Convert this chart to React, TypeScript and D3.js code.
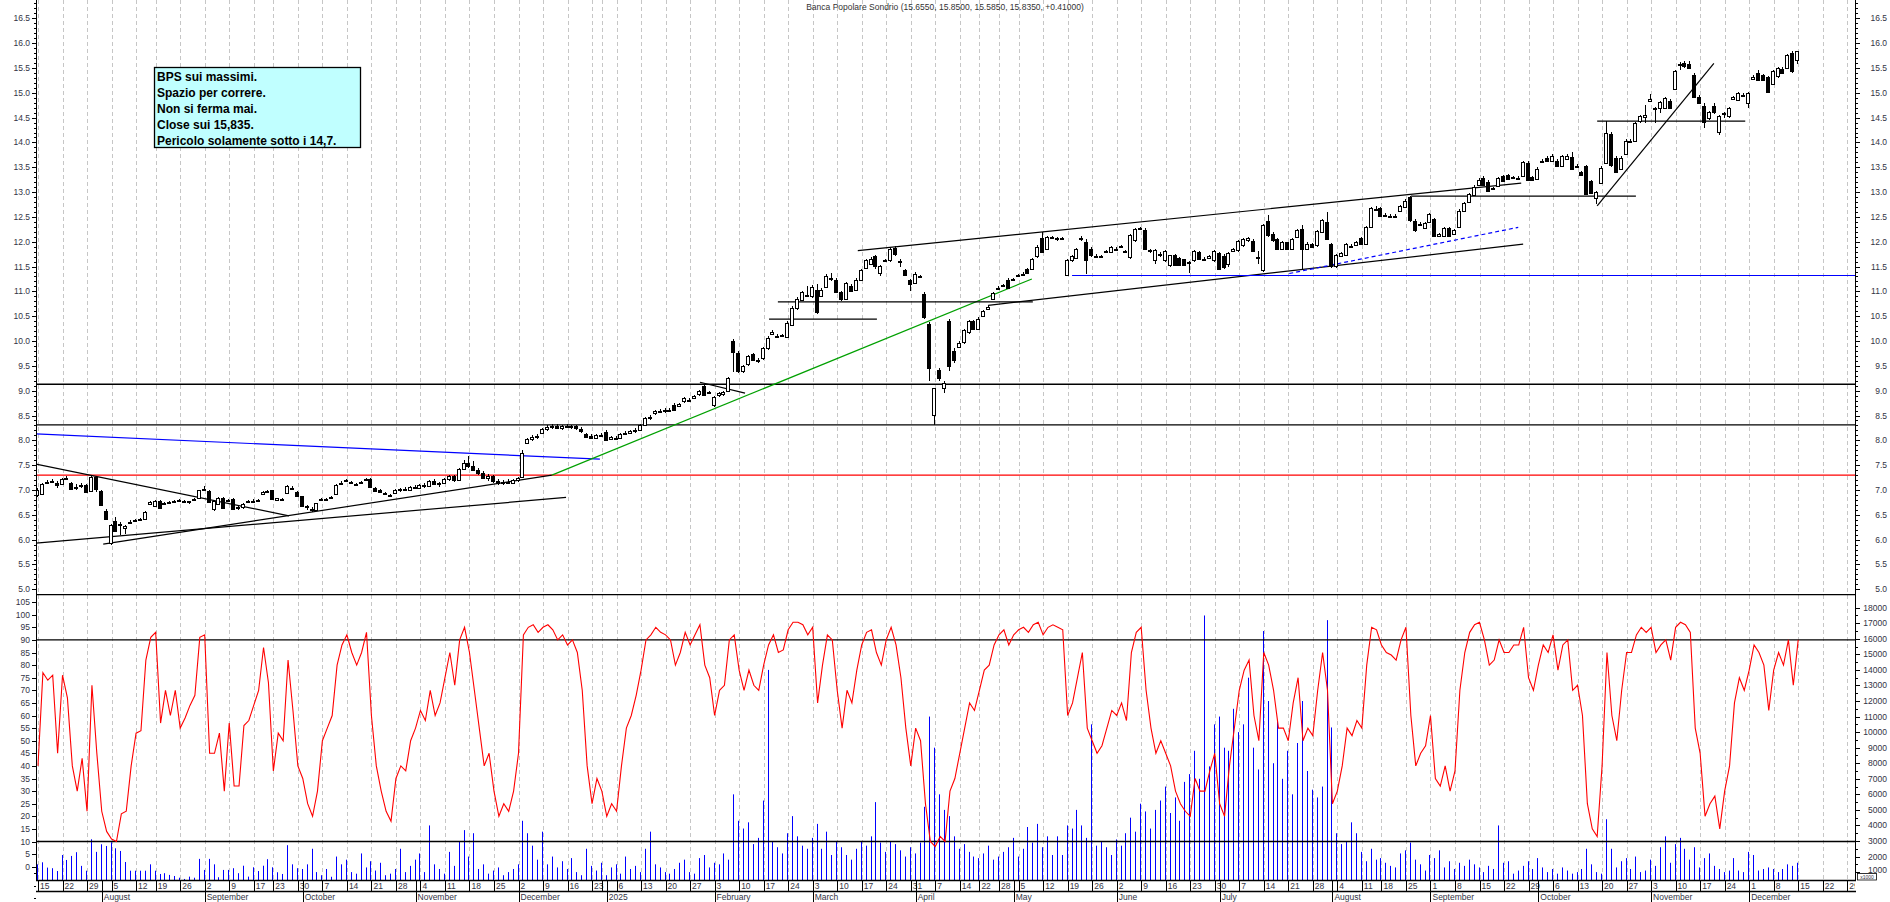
import React from "react";
import * as d3 from "d3";

const TITLE = "Banca Popolare Sondrio (15.6550, 15.8500, 15.5850, 15.8350, +0.41000)";
const NOTE_LINES = ["BPS sui massimi.", "Spazio per correre.", "Non si ferma mai.", "Close sui 15,835.", "Pericolo solamente sotto i 14,7."];
const START_DATE = "2024-07-15";
const AXIS_END_DATE = "2025-12-31";
const CLOSED_DAYS = ["2024-08-15", "2024-09-16", "2024-12-24", "2024-12-25", "2024-12-26", "2024-12-31", "2025-01-01", "2025-04-18", "2025-04-21", "2025-05-01", "2025-08-15"];
const MONTHS = ["January", "February", "March", "April", "May", "June", "July", "August", "September", "October", "November", "December"];

// daily candles: [open, high, low, close]
const candles: number[][] = [
[6.90,7.05,6.85,7.00],[6.92,7.15,6.90,7.12],[7.15,7.20,7.12,7.17],[7.17,7.22,7.14,7.18],[7.14,7.18,7.05,7.10],
[7.12,7.25,7.10,7.22],[7.24,7.28,7.20,7.25],[7.14,7.16,7.00,7.02],[7.06,7.12,7.00,7.06],[7.08,7.14,7.05,7.10],
[7.10,7.12,6.95,6.96],[6.98,7.30,6.96,7.27],[7.27,7.29,6.95,7.03],[6.98,7.00,6.68,6.70],[6.58,6.62,6.40,6.41],
[5.93,6.32,5.90,6.30],[6.37,6.45,6.15,6.18],[6.30,6.35,6.10,6.32],[6.24,6.30,6.12,6.28],[6.34,6.40,6.32,6.36],
[6.38,6.42,6.35,6.39],[6.40,6.44,6.38,6.42],[6.42,6.57,6.40,6.55],[6.72,6.78,6.70,6.75],[6.68,6.80,6.66,6.78],
[6.78,6.80,6.62,6.63],[6.72,6.76,6.70,6.74],[6.74,6.78,6.72,6.76],[6.77,6.80,6.75,6.78],[6.79,6.82,6.77,6.80],
[6.78,6.80,6.76,6.78],[6.76,6.78,6.72,6.77],[6.80,6.84,6.78,6.82],[6.83,7.00,6.82,6.99],[7.02,7.08,6.98,7.03],
[6.97,6.99,6.74,6.75],[6.62,6.80,6.58,6.78],[6.72,6.85,6.70,6.83],[6.83,6.85,6.62,6.64],[6.78,6.82,6.76,6.80],
[6.81,6.83,6.60,6.62],[6.64,6.68,6.60,6.65],[6.66,6.74,6.62,6.72],[6.76,6.80,6.74,6.78],[6.77,6.82,6.75,6.78],
[6.78,6.82,6.77,6.80],[6.92,6.97,6.90,6.95],[6.96,7.00,6.94,6.97],[6.99,7.00,6.80,6.81],[6.80,6.84,6.78,6.83],
[6.81,6.84,6.80,6.82],[6.93,7.10,6.92,7.08],[7.05,7.08,7.00,7.04],[6.95,6.98,6.86,6.87],[6.87,6.88,6.66,6.67],
[6.68,6.70,6.60,6.67],[6.62,6.65,6.56,6.61],[6.59,6.74,6.57,6.73],[6.80,6.84,6.78,6.82],[6.81,6.84,6.79,6.82],
[6.83,6.87,6.82,6.85],[6.91,7.12,6.90,7.10],[7.13,7.18,7.12,7.15],[7.18,7.22,7.16,7.20],[7.15,7.18,7.13,7.16],
[7.11,7.15,7.08,7.13],[7.15,7.19,7.13,7.16],[7.20,7.25,7.18,7.22],[7.22,7.24,7.06,7.07],[7.05,7.06,6.96,6.97],
[7.00,7.01,6.94,6.95],[6.93,6.95,6.90,6.92],[6.90,6.92,6.88,6.89],[6.93,7.02,6.92,7.00],[7.00,7.05,6.95,7.02],
[7.02,7.06,6.98,7.00],[7.00,7.08,6.98,7.06],[7.06,7.10,7.02,7.04],[7.04,7.12,7.02,7.10],[7.10,7.15,7.05,7.08],
[7.08,7.20,7.06,7.18],[7.18,7.22,7.10,7.12],[7.12,7.16,7.06,7.14],[7.14,7.24,7.12,7.22],[7.22,7.30,7.18,7.28],
[7.28,7.30,7.16,7.20],[7.20,7.45,7.18,7.42],[7.42,7.60,7.40,7.55],[7.55,7.68,7.45,7.48],[7.48,7.58,7.38,7.40],
[7.40,7.45,7.30,7.35],[7.35,7.38,7.22,7.25],[7.25,7.32,7.18,7.28],[7.28,7.30,7.15,7.18],[7.18,7.22,7.10,7.14],
[7.14,7.20,7.10,7.17],[7.17,7.22,7.12,7.15],[7.15,7.22,7.13,7.20],[7.20,7.26,7.16,7.24],[7.26,7.80,7.24,7.75],
[7.95,8.05,7.92,8.02],[8.02,8.10,7.98,8.06],[8.06,8.12,8.02,8.08],[8.15,8.25,8.12,8.22],[8.22,8.30,8.18,8.26],
[8.26,8.32,8.22,8.28],[8.28,8.33,8.22,8.25],[8.25,8.30,8.20,8.28],[8.28,8.32,8.24,8.26],[8.26,8.30,8.22,8.28],
[8.28,8.30,8.20,8.24],[8.22,8.26,8.15,8.18],[8.12,8.15,8.04,8.06],[8.08,8.12,8.02,8.04],[8.04,8.12,8.02,8.10],
[8.10,8.14,8.06,8.08],[8.17,8.20,7.98,8.00],[8.02,8.08,8.00,8.06],[8.04,8.08,8.00,8.05],[8.05,8.14,8.02,8.12],
[8.12,8.18,8.10,8.15],[8.15,8.20,8.12,8.18],[8.18,8.24,8.14,8.20],[8.20,8.32,8.18,8.30],[8.30,8.48,8.28,8.45],
[8.45,8.52,8.40,8.48],[8.55,8.62,8.52,8.60],[8.60,8.64,8.56,8.60],[8.60,8.65,8.56,8.62],[8.62,8.66,8.58,8.60],
[8.72,8.75,8.60,8.62],[8.70,8.76,8.68,8.74],[8.79,8.88,8.76,8.86],[8.82,8.86,8.78,8.80],[8.86,8.92,8.84,8.90],
[8.93,9.02,8.90,9.00],[9.09,9.12,8.90,8.91],[8.97,9.00,8.94,8.96],[8.71,8.90,8.68,8.88],[8.92,8.98,8.88,8.96],
[8.93,9.00,8.90,8.98],[8.99,9.28,8.97,9.25],[10.00,10.05,9.37,9.77],[9.76,9.80,9.36,9.39],[9.39,9.52,9.35,9.49],
[9.54,9.72,9.50,9.69],[9.73,9.76,9.60,9.62],[9.62,9.66,9.56,9.60],[9.65,9.88,9.62,9.85],[9.85,10.10,9.82,10.07],
[10.15,10.22,10.12,10.19],[10.10,10.14,10.06,10.09],[10.10,10.15,10.08,10.12],[10.09,10.40,10.07,10.37],[10.33,10.70,10.30,10.66],
[10.66,10.88,10.62,10.84],[10.82,11.00,10.80,10.98],[10.92,11.10,10.88,10.90],[10.90,11.12,10.86,11.08],[11.03,11.15,10.55,10.58],
[10.91,11.06,10.88,11.03],[11.08,11.35,11.06,11.30],[11.24,11.38,11.20,11.27],[11.23,11.26,10.96,10.98],[10.98,11.00,10.80,10.84],
[10.84,11.18,10.82,11.16],[11.10,11.14,10.98,11.00],[11.03,11.26,11.00,11.23],[11.23,11.46,11.20,11.43],[11.48,11.66,11.45,11.63],
[11.56,11.70,11.54,11.66],[11.71,11.74,11.45,11.51],[11.38,11.54,11.30,11.51],[11.62,11.66,11.60,11.63],[11.63,11.90,11.60,11.86],
[11.88,11.92,11.72,11.75],[11.62,11.66,11.50,11.62],[11.43,11.45,11.30,11.33],[11.22,11.25,11.00,11.15],[11.16,11.40,11.14,11.36],
[11.30,11.34,11.26,11.30],[10.95,10.98,10.45,10.48],[10.35,10.38,9.19,9.46],[8.52,9.06,8.31,9.06],[9.41,9.45,9.20,9.26],
[9.05,9.20,8.95,9.15],[10.40,10.45,9.40,9.50],[9.79,9.85,9.55,9.62],[9.89,10.00,9.85,9.97],[9.99,10.25,9.95,10.22],
[10.18,10.42,10.15,10.40],[10.40,10.43,10.22,10.25],[10.25,10.48,10.22,10.45],[10.50,10.62,10.48,10.60],[10.65,10.72,10.62,10.68],
[10.84,10.99,10.82,10.97],[11.05,11.10,11.02,11.07],[11.10,11.15,11.08,11.12],[11.23,11.26,11.04,11.07],[11.22,11.27,11.20,11.24],
[11.30,11.36,11.28,11.33],[11.34,11.40,11.32,11.36],[11.45,11.48,11.36,11.38],[11.46,11.68,11.44,11.66],[11.71,11.93,11.68,11.90],
[12.07,12.20,11.78,11.80],[11.86,12.12,11.84,12.10],[12.09,12.12,12.06,12.09],[12.06,12.10,12.02,12.07],[12.07,12.10,12.04,12.07],
[11.33,11.65,11.30,11.63],[11.63,11.74,11.60,11.71],[11.68,11.88,11.66,11.86],[12.05,12.12,12.02,12.07],[12.00,12.05,11.35,11.63],
[11.86,11.90,11.70,11.73],[11.70,11.75,11.68,11.71],[11.70,11.74,11.68,11.71],[11.80,11.84,11.78,11.81],[11.80,11.92,11.78,11.90],
[11.85,11.90,11.82,11.86],[11.89,11.94,11.87,11.91],[11.81,11.84,11.78,11.82],[11.69,12.15,11.66,12.13],[12.03,12.27,12.00,12.25],
[12.27,12.30,12.24,12.27],[12.23,12.28,11.84,11.86],[11.82,11.86,11.78,11.83],[11.63,11.86,11.55,11.84],[11.73,11.80,11.70,11.75],
[11.63,11.84,11.60,11.82],[11.53,11.74,11.50,11.73],[11.73,11.75,11.52,11.53],[11.68,11.70,11.52,11.53],[11.65,11.66,11.52,11.53],
[11.60,11.62,11.38,11.60],[11.63,11.84,11.60,11.82],[11.80,11.82,11.63,11.66],[11.66,11.70,11.62,11.66],[11.68,11.73,11.66,11.72],
[11.63,11.84,11.60,11.82],[11.78,11.80,11.44,11.46],[11.72,11.75,11.46,11.50],[11.55,11.80,11.50,11.78],[11.82,11.88,11.80,11.85],
[11.83,12.03,11.80,12.01],[11.93,12.08,11.90,12.06],[12.03,12.10,12.00,12.08],[12.02,12.05,11.80,11.82],[11.68,11.82,11.55,11.69],
[11.43,12.36,11.40,12.33],[12.41,12.53,12.10,12.13],[12.16,12.20,12.00,12.03],[12.06,12.08,11.84,11.86],[11.86,12.02,11.84,11.99],
[11.99,12.00,11.84,11.86],[11.86,12.08,11.84,12.06],[12.10,12.26,12.08,12.23],[12.26,12.34,11.45,11.86],[11.86,12.00,11.84,11.96],
[11.96,11.98,11.88,11.90],[11.93,12.23,11.90,12.21],[12.20,12.45,12.18,12.43],[12.40,12.60,12.04,12.06],[11.96,11.98,11.48,11.51],
[11.51,11.75,11.48,11.73],[11.72,11.80,11.70,11.78],[11.74,11.98,11.72,11.96],[11.90,11.95,11.88,11.92],[11.94,12.01,11.92,11.99],
[12.07,12.10,11.94,11.96],[11.96,12.32,11.94,12.30],[12.30,12.70,12.28,12.67],[12.66,12.72,12.62,12.65],[12.67,12.70,12.50,12.52],
[12.52,12.58,12.50,12.54],[12.50,12.56,12.48,12.52],[12.50,12.55,12.48,12.51],[12.62,12.74,12.60,12.72],[12.70,12.86,12.68,12.83],
[12.90,12.93,12.40,12.43],[12.42,12.45,12.20,12.23],[12.35,12.40,12.32,12.36],[12.28,12.40,12.26,12.37],[12.40,12.58,12.38,12.56],
[12.45,12.48,12.10,12.12],[12.12,12.18,12.10,12.16],[12.12,12.30,12.10,12.28],[12.28,12.30,12.10,12.12],[12.16,12.25,12.14,12.23],
[12.29,12.65,12.27,12.62],[12.62,12.80,12.60,12.78],[12.80,12.98,12.78,12.96],[12.95,13.14,12.93,13.11],[13.15,13.28,13.13,13.25],
[13.28,13.33,13.12,13.15],[13.21,13.24,13.01,13.03],[13.06,13.10,13.04,13.08],[13.12,13.30,13.10,13.28],[13.32,13.35,13.22,13.23],
[13.34,13.36,13.24,13.26],[13.28,13.32,13.26,13.30],[13.28,13.32,13.26,13.29],[13.32,13.63,13.30,13.60],[13.59,13.62,13.22,13.25],
[13.30,13.32,13.22,13.25],[13.27,13.50,13.25,13.47],[13.60,13.66,13.58,13.62],[13.68,13.72,13.60,13.62],[13.62,13.76,13.60,13.73],
[13.62,13.66,13.50,13.52],[13.52,13.74,13.50,13.72],[13.66,13.76,13.64,13.73],[13.71,13.80,13.44,13.46],[13.52,13.56,13.50,13.53],
[13.41,13.43,13.33,13.35],[13.52,13.55,12.95,12.97],[13.22,13.25,12.96,12.98],[12.88,13.02,12.75,13.00],[13.18,13.52,13.16,13.49],
[13.59,14.44,13.57,14.19],[14.17,14.22,13.50,13.55],[13.69,13.72,13.38,13.41],[13.46,13.72,13.44,13.69],[13.77,14.06,13.75,14.03],
[14.00,14.06,13.98,14.02],[14.02,14.42,14.00,14.40],[14.44,14.56,14.40,14.54],[14.52,14.76,14.40,14.55],[14.84,14.98,14.82,14.88],
[14.68,14.72,14.40,14.70],[14.69,14.84,14.60,14.81],[14.70,14.92,14.68,14.89],[14.84,14.88,14.68,14.70],[15.08,15.45,15.06,15.43],
[15.55,15.62,15.45,15.57],[15.60,15.65,15.50,15.53],[15.58,15.64,15.48,15.50],[15.36,15.40,14.90,14.92],[14.92,14.95,14.78,14.80],
[14.74,14.80,14.30,14.41],[14.50,14.64,14.46,14.61],[14.74,14.80,14.58,14.61],[14.22,14.56,14.15,14.54],[14.58,14.62,14.50,14.59],
[14.54,14.72,14.50,14.69],[14.88,14.94,14.86,14.91],[14.86,15.02,14.84,15.00],[14.95,15.00,14.92,14.96],[14.80,15.02,14.70,15.00],
[15.28,15.36,15.26,15.31],[15.40,15.45,15.24,15.26],[15.36,15.38,15.24,15.26],[15.31,15.33,15.00,15.02],[15.17,15.45,15.15,15.43],
[15.33,15.52,15.30,15.50],[15.48,15.52,15.38,15.40],[15.50,15.78,15.48,15.76],[15.80,15.84,15.40,15.43],[15.655,15.85,15.585,15.835],
];

// stochastic oscillator (red line), 0-100
const oscillator: number[] = [
40,77,74,76,45,76,67,40,30,43, 22,72,45,22,14,11,10,21,22,40, 53,54,82,91,93,57,70,60,70,55,
59,64,68,91,92,45,45,53,30,57, 32,32,56,58,64,70,87,73,38,53, 50,82,62,40,35,25,20,30,50,55,
60,80,88,92,85,80,85,93,60,40, 30,22,18,35,40,38,50,55,62,58, 70,60,65,75,85,72,90,95,85,70,
55,40,45,30,20,25,22,30,45,92, 95,96,93,95,96,94,90,92,88,90, 85,70,40,25,35,30,20,25,22,40,
55,60,68,78,90,92,95,93,92,90, 80,85,93,88,92,96,80,75,60,70, 72,90,92,78,70,78,72,70,80,88,
92,85,86,94,97,97,96,92,95,65, 80,92,90,70,55,70,65,78,88,93, 94,85,80,90,95,88,75,55,40,55,
50,25,10,8,12,10,30,35,45,55, 65,62,70,78,80,88,92,94,88,92, 94,95,93,96,97,92,95,96,95,94,
60,65,75,85,55,50,45,48,55,62, 60,65,58,85,93,95,70,55,45,50, 45,40,30,25,22,20,35,30,30,38,
45,25,20,40,55,70,78,82,60,50, 85,80,70,55,55,50,65,75,50,55, 52,70,85,70,25,30,40,55,52,58,
55,80,95,94,88,85,84,82,90,95, 60,40,45,48,60,35,32,40,30,38, 70,85,93,96,97,90,80,82,90,85,
85,88,88,95,75,70,80,88,85,92, 78,88,90,70,72,60,25,15,12,40, 85,60,50,70,85,85,92,95,93,95,
85,88,90,82,95,97,96,93,55,45, 20,25,28,15,30,40,65,75,70,78, 88,85,80,62,78,85,80,90,72,90,
];

// volume, thousands of shares
const volumeK: number[] = [
1500,1630,1290,1250,1070,2100,1780,2040,2280,1400, 1090,3110,2300,2790,2680,2920,2530,2360,1650,1090,
1090,1090,1090,1500,1090,880,930,820,750,640, 560,710,640,1850,1140,1850,1500,670,1140,1140,
1250,930,1410,710,1310,1070,1410,1830,1310,990, 880,2730,1500,1250,1200,1500,2500,1000,800,1200,
700,2000,1500,1800,1000,900,2200,1300,1700,1100, 1600,800,900,1200,2500,1000,1400,1800,2200,1000,
4000,1500,1200,900,2300,1400,3000,3700,2000,3500, 1200,1500,900,1100,1300,800,1000,1200,1500,4300,
3500,2700,1800,3600,1500,2000,1300,1700,1200,1900, 1000,800,2500,1400,1100,1600,800,1300,1500,900,
2000,1200,1400,1000,2500,3600,1500,1300,1000,900, 1200,1600,1800,1000,900,1900,2100,1300,1600,1500,
2200,1800,6000,4300,3800,4200,2800,3200,5600,14000, 3000,2600,2200,3500,4600,3300,2700,2500,3200,4100,
2500,3600,2100,3000,2600,2100,1800,2500,3000,2700, 3300,5500,2900,2300,3000,2800,2400,2000,2600,2200,
2900,5200,11000,9000,6000,5000,4600,3300,2500,2800, 2300,2000,1900,2200,2700,1800,2000,2300,2600,3200,
2000,2500,3900,2900,4100,2600,3300,2100,3300,2100, 4000,3800,5000,4000,3200,10500,2700,3000,2600,2100,
3100,2700,3500,4500,3600,5400,4900,3800,5000,5600, 6500,4800,5800,4300,6800,7300,8800,7000,17500,7800,
10500,11000,9000,8800,11500,10000,10500,13500,9000,7600, 16500,12000,8000,10700,7000,8800,6000,9300,12000,7500,
6300,5800,6500,17200,10300,3500,2800,3000,4200,3500, 2300,1700,2500,1800,1900,1600,1400,1300,2200,2400,
2900,1800,1500,1100,2100,1900,2400,1300,1700,1200, 1600,1400,1800,1500,1300,1000,1400,1200,4000,1600,
1700,900,1100,1400,1700,1200,1900,1300,1000,1200, 900,1300,1100,900,1000,1200,2500,1500,1000,900,
4400,2500,1300,1700,1900,1200,2000,1000,1100,1800, 1400,2600,3300,1600,2800,3200,2500,1800,2600,1300,
1900,2200,1400,1200,1000,1100,1900,1100,1000,2300, 2100,1100,1200,1300,1200,1000,1200,1500,1400,1600,
];

const PRICE_TICKS = [5, 5.5, 6, 6.5, 7, 7.5, 8, 8.5, 9, 9.5, 10, 10.5, 11, 11.5, 12, 12.5, 13, 13.5, 14, 14.5, 15, 15.5, 16, 16.5];
const OSC_TICKS = [0, 5, 10, 15, 20, 25, 30, 35, 40, 45, 50, 55, 60, 65, 70, 75, 80, 85, 90, 95, 100, 105];
const VOL_TICKS = [1000, 2000, 3000, 4000, 5000, 6000, 7000, 8000, 9000, 10000, 11000, 12000, 13000, 14000, 15000, 16000, 17000, 18000];
const OSC_LEVELS = [90, 10];

// horizontal levels across the whole chart
const priceLevels = [
  { v: 9.13, color: "#000000" },
  { v: 8.31, color: "#000000" },
  { v: 7.3, color: "#ff0000" },
];
// drawn segments: [index1, price1, index2, price2]
const trendLines = [
  { p: [-0.4, 8.13, 114.6, 7.62], color: "#0000ff", dash: "" },
  { p: [-0.4, 7.52, 51.2, 6.48], color: "#000000", dash: "" },
  { p: [-0.4, 5.93, 107.7, 6.85], color: "#000000", dash: "" },
  { p: [13.3, 5.91, 104.8, 7.3], color: "#000000", dash: "" },
  { p: [104.8, 7.3, 202.7, 11.25], color: "#00a000", dash: "" },
  { p: [135.0, 9.17, 144.2, 8.95], color: "#000000", dash: "" },
  { p: [149.1, 10.44, 171.1, 10.44], color: "#000000", dash: "" },
  { p: [150.9, 10.79, 202.9, 10.79], color: "#000000", dash: "" },
  { p: [193.8, 10.72, 302.9, 11.95], color: "#000000", dash: "" },
  { p: [167.2, 11.82, 302.5, 13.18], color: "#000000", dash: "" },
  { p: [280.0, 12.92, 325.9, 12.92], color: "#000000", dash: "" },
  { p: [210.9, 11.32, 370.6, 11.32], color: "#0000ff", dash: "" },
  { p: [255.2, 11.36, 301.9, 12.29], color: "#0000ff", dash: "4 3" },
  { p: [318.0, 12.72, 341.8, 15.59], color: "#000000", dash: "" },
  { p: [318.0, 14.43, 348.2, 14.43], color: "#000000", dash: "" },
];

function buildDates(): Date[] {
  const closed = new Set(CLOSED_DAYS);
  const out: Date[] = [];
  const d = new Date(START_DATE + "T00:00:00Z");
  const end = new Date(AXIS_END_DATE + "T00:00:00Z");
  while (d <= end) {
    const wd = d.getUTCDay();
    const iso = d.toISOString().slice(0, 10);
    const inData = out.length < candles.length;
    if (wd !== 0 && wd !== 6 && (!inData || !closed.has(iso))) out.push(new Date(d));
    d.setUTCDate(d.getUTCDate() + 1);
  }
  return out;
}

const FONT = "'Liberation Sans', Arial, sans-serif";

export default function App() {
  const W = 1890, H = 902;
  const axL = 36, axR = 1855;
  const pTop = 0, pBot = 594.7, lBot = 880;
  const x = d3.scaleLinear().domain([0, 359]).range([38, 1798.2]);
  const yP = d3.scaleLinear().domain([5, 16.5]).range([589.3, 18.3]);
  const yO = d3.scaleLinear().domain([0, 105]).range([866.7, 602.1]);
  const yV = d3.scaleLinear().domain([3000, 18000]).range([841, 607.7]);
  const dates = buildDates();

  const weekStarts: number[] = [];
  const monthStarts: number[] = [];
  const mondayKey = (dt: Date) => Math.floor((dt.getTime() / 86400000 + 3) / 7);
  dates.forEach((dt, i) => {
    if (i === 0 || mondayKey(dt) !== mondayKey(dates[i - 1])) weekStarts.push(i);
    if (i > 0 && dt.getUTCMonth() !== dates[i - 1].getUTCMonth()) monthStarts.push(i);
  });
  const inAxis = (i: number) => x(i) <= axR;
  // a week whose days run into a new year carries no day label
  const labelWeek = (i: number) => {
    const k = weekStarts.indexOf(i);
    const next = k + 1 < weekStarts.length ? weekStarts[k + 1] : dates.length;
    for (let j = i + 1; j < next; j++) if (dates[j].getUTCFullYear() !== dates[i].getUTCFullYear()) return false;
    return true;
  };

  const oscLine = d3.line<number>().x((_, i) => x(i)).y((v) => yO(v))(oscillator) || "";

  const minorPrice = d3.range(50, 169).map((k) => k / 10);
  const minorVol = d3.range(1000, 18500, 500);
  const minorOsc = d3.range(0, 106, 5);

  const px = (v: number) => Math.round(v) + 0.5;

  return (
    <svg width={W} height={H} style={{ position: "absolute", left: 0, top: 0, background: "#ffffff" }} fontFamily={FONT}>
      <defs>
        <clipPath id="pclip"><rect x={axL} y={pTop} width={axR - axL} height={pBot - pTop} /></clipPath>
        <clipPath id="lclip"><rect x={axL} y={pBot} width={axR - axL} height={lBot - pBot} /></clipPath>
        <clipPath id="dclip"><rect x={axL} y={lBot} width={axR - axL} height={H - lBot} /></clipPath>
      </defs>
      <rect x={0} y={0} width={W} height={H} fill="#ffffff" />
      {/* vertical dashed grid */}
      {weekStarts.filter(inAxis).map((i) => (
        <line key={"g" + i} x1={px(x(i))} x2={px(x(i))} y1={0} y2={lBot} stroke="#c6c6c6" strokeDasharray="4 3" />
      ))}
      <text x={945} y={10} fontSize={8.5} fill="#333" textAnchor="middle">{TITLE}</text>

      {/* price panel */}
      <g clipPath="url(#pclip)">
        {priceLevels.map((l, k) => (
          <line key={"pl" + k} x1={axL} x2={axR} y1={yP(l.v)} y2={yP(l.v)} stroke={l.color} strokeWidth={1.3} />
        ))}
        {trendLines.map((t, k) => (
          <line key={"tl" + k} x1={x(t.p[0])} y1={yP(t.p[1])} x2={x(t.p[2])} y2={yP(t.p[3])} stroke={t.color} strokeWidth={1.2} strokeDasharray={t.dash || undefined} />
        ))}
        {candles.map((c, i) => {
          const [o, h, l, cl] = c;
          const cx = Math.round(x(i));
          const top = Math.round(yP(Math.max(o, cl)));
          const bot = Math.round(yP(Math.min(o, cl)));
          const up = cl >= o;
          return (
            <g key={"c" + i}>
              <line x1={cx - 0.5} x2={cx - 0.5} y1={Math.round(yP(h))} y2={Math.round(yP(l))} stroke="#000" strokeWidth={1} />
              <rect x={cx - 2.5} y={top + 0.5} width={3} height={Math.max(1, bot - top)} fill={up ? "#ffffff" : "#000000"} stroke="#000" strokeWidth={1} />
            </g>
          );
        })}
      </g>

      {/* lower panel */}
      <g clipPath="url(#lclip)">
        {volumeK.map((v, i) => (
          <line key={"v" + i} x1={Math.round(x(i)) - 0.5} x2={Math.round(x(i)) - 0.5} y1={yV(v)} y2={lBot} stroke="#0000ff" strokeWidth={1} />
        ))}
        {OSC_LEVELS.map((v) => (
          <line key={"ol" + v} x1={axL} x2={axR} y1={yO(v)} y2={yO(v)} stroke="#000" strokeWidth={1.3} />
        ))}
        <path d={oscLine} fill="none" stroke="#ff0000" strokeWidth={1.1} />
      </g>

      {/* frame */}
      <line x1={axL} x2={axR} y1={pBot} y2={pBot} stroke="#000" strokeWidth={1.3} />
      <line x1={px(axL)} x2={px(axL)} y1={0} y2={lBot} stroke="#000" />
      <line x1={px(axR)} x2={px(axR)} y1={0} y2={lBot} stroke="#000" />
      <line x1={axL} x2={axR + 1} y1={lBot + 0.5} y2={lBot + 0.5} stroke="#000" strokeWidth={1.3} />
      <line x1={axL} x2={axR + 1} y1={891.5} y2={891.5} stroke="#000" strokeWidth={1.3} />

      {/* price axes */}
      {minorPrice.map((v) => {
        const major = Math.abs(v * 2 - Math.round(v * 2)) < 1e-6;
        const yy = px(yP(v));
        return (
          <g key={"mp" + v}>
            <line x1={axL - (major ? 4 : 2)} x2={axL} y1={yy} y2={yy} stroke="#000" />
            <line x1={axR} x2={axR + (major ? 5 : 3)} y1={yy} y2={yy} stroke="#000" />
          </g>
        );
      })}
      {PRICE_TICKS.map((v) => (
        <g key={"pt" + v} fontSize={8.5} fill="#333344">
          <text x={30} y={yP(v) + 3} textAnchor="end">{v.toFixed(1)}</text>
          <text x={1887} y={yP(v) + 3} textAnchor="end">{v.toFixed(1)}</text>
        </g>
      ))}

      {/* lower axes */}
      {minorOsc.map((v) => (
        <line key={"mo" + v} x1={axL - 4} x2={axL} y1={px(yO(v))} y2={px(yO(v))} stroke="#000" />
      ))}
      {[2.5, 7.5, 12.5].map((v) => (
        <line key={"mo2" + v} x1={axL - 2} x2={axL} y1={px(yO(-v))} y2={px(yO(-v))} stroke="#000" />
      ))}
      {OSC_TICKS.map((v) => (
        <text key={"ot" + v} x={30} y={yO(v) + 3} textAnchor="end" fontSize={8.5} fill="#333344">{v}</text>
      ))}
      {minorVol.map((v) => (
        <line key={"mv" + v} x1={axR} x2={axR + (v % 1000 === 0 ? 5 : 3)} y1={px(yV(v))} y2={px(yV(v))} stroke="#000" />
      ))}
      {VOL_TICKS.map((v) => (
        <text key={"vt" + v} x={1887} y={yV(v) + (v === 1000 ? 1 : 3)} textAnchor="end" fontSize={8.5} fill="#333344">{v}</text>
      ))}
      <rect x={1857.5} y={873.5} width={19} height={6.5} fill="#ffffff" stroke="#000" strokeWidth={0.8} />
      <text x={1867} y={879} textAnchor="middle" fontSize={5} fill="#333344">x1000</text>

      {/* date axis */}
      <g clipPath="url(#dclip)">
        {weekStarts.filter(inAxis).map((i) => (
          <g key={"wl" + i}>
            <line x1={px(x(i))} x2={px(x(i))} y1={lBot} y2={891} stroke="#000" />
            {labelWeek(i) && <text x={x(i) + 2} y={889} fontSize={8.5} fill="#333344">{dates[i].getUTCDate()}</text>}
          </g>
        ))}
        {monthStarts.filter(inAxis).map((i) => {
          const m = dates[i].getUTCMonth();
          const label = m === 0 ? String(dates[i].getUTCFullYear()) : MONTHS[m];
          return (
            <g key={"ml" + i}>
              <line x1={px(x(i))} x2={px(x(i))} y1={lBot} y2={H} stroke="#000" />
              <text x={x(i) + 2} y={900} fontSize={8.5} fill="#333344">{label}</text>
            </g>
          );
        })}
      </g>

      {/* note box */}
      <rect x={154.5} y={67.5} width={206} height={80} fill="#c0ffff" stroke="#000" strokeWidth={1.3} />
      {NOTE_LINES.map((t, k) => (
        <text key={"n" + k} x={157} y={81 + k * 16} fontSize={12} fontWeight="bold" fill="#000">{t}</text>
      ))}
    </svg>
  );
}
